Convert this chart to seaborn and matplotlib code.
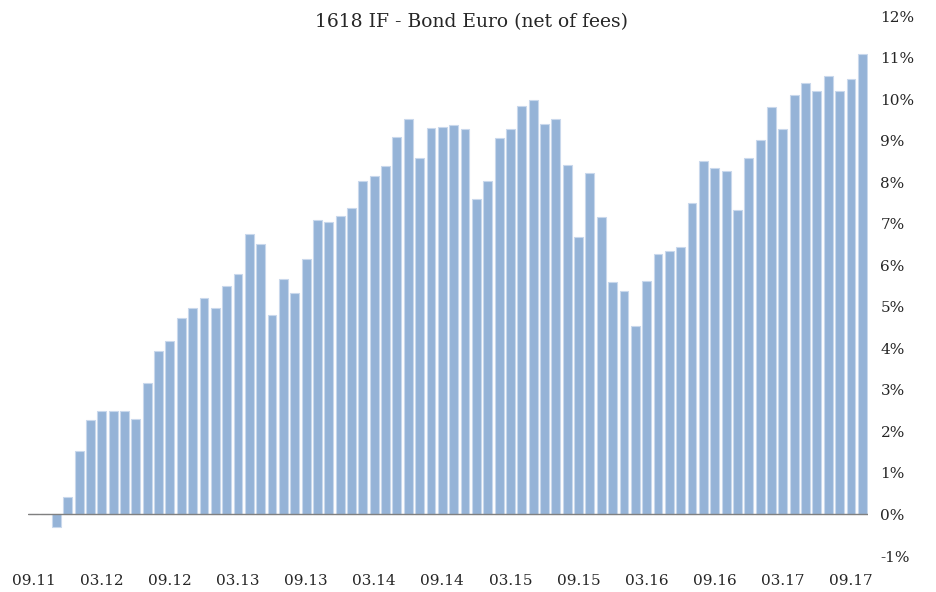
import pandas as pd
import matplotlib
matplotlib.use("Agg")
import matplotlib.pyplot as plt
import seaborn as sns

# Monthly periods (MM.YY), Sep 2011 to Oct 2017
months = [
    "09.11", "10.11", "11.11", "12.11",
    "01.12", "02.12", "03.12", "04.12", "05.12", "06.12", "07.12", "08.12", "09.12", "10.12", "11.12", "12.12",
    "01.13", "02.13", "03.13", "04.13", "05.13", "06.13", "07.13", "08.13", "09.13", "10.13", "11.13", "12.13",
    "01.14", "02.14", "03.14", "04.14", "05.14", "06.14", "07.14", "08.14", "09.14", "10.14", "11.14", "12.14",
    "01.15", "02.15", "03.15", "04.15", "05.15", "06.15", "07.15", "08.15", "09.15", "10.15", "11.15", "12.15",
    "01.16", "02.16", "03.16", "04.16", "05.16", "06.16", "07.16", "08.16", "09.16", "10.16", "11.16", "12.16",
    "01.17", "02.17", "03.17", "04.17", "05.17", "06.17", "07.17", "08.17", "09.17", "10.17",
]

# Cumulative performance in %
performance = [
    0.0, 0.0, -0.30, 0.42,
    1.52, 2.28, 2.48, 2.48, 2.48, 2.29, 3.17, 3.93, 4.17, 4.73, 4.96, 5.22,
    4.98, 5.49, 5.78, 6.76, 6.50, 4.81, 5.66, 5.34, 6.15, 7.09, 7.05, 7.18,
    7.37, 8.03, 8.16, 8.39, 9.09, 9.51, 8.58, 9.30, 9.33, 9.37, 9.27, 7.60,
    8.03, 9.07, 9.27, 9.84, 9.98, 9.40, 9.51, 8.42, 6.69, 8.21, 7.15, 5.59,
    5.39, 4.54, 5.62, 6.28, 6.35, 6.43, 7.49, 8.50, 8.35, 8.26, 7.33, 8.57,
    9.02, 9.80, 9.28, 10.11, 10.38, 10.20, 10.56, 10.20, 10.48, 11.09,
]

tick_labels = ["09.11", "03.12", "09.12", "03.13", "09.13", "03.14", "09.14",
               "03.15", "09.15", "03.16", "09.16", "03.17", "09.17"]
y_ticks = list(range(-1, 13))

df = pd.DataFrame({"Month": months, "Performance": performance})

sns.set_style("white")
plt.rcParams["font.family"] = ["DejaVu Serif"]

fig = plt.figure(figsize=(9.37, 5.92), dpi=100)
ax = fig.add_axes([28 / 937, 1 - 556 / 592, 840 / 937, 540 / 592])

sns.barplot(data=df, x="Month", y="Performance", color="#95b3d7",
            saturation=1, width=0.78, edgecolor="#c9d8ec", linewidth=0.8, ax=ax)

ax.axhline(0, color="#808080", linewidth=1)

ax.set_ylim(-1, 12)
ax.set_yticks(y_ticks)
ax.set_yticklabels([f"{t}%" for t in y_ticks])
ax.yaxis.tick_right()

ax.set_xticks([months.index(m) for m in tick_labels])
ax.set_xticklabels(tick_labels)

ax.tick_params(axis="y", length=0, pad=9, labelsize=11)
ax.tick_params(axis="x", length=0, pad=13, labelsize=11)
ax.set_xlabel("")
ax.set_ylabel("")
sns.despine(ax=ax, left=True, bottom=True, right=True, top=True)

fig.text(0.503, 1 - 22 / 592, "1618 IF - Bond Euro (net of fees)",
         ha="center", va="center", fontsize=13.5)

fig.savefig("out.png", dpi=100)
